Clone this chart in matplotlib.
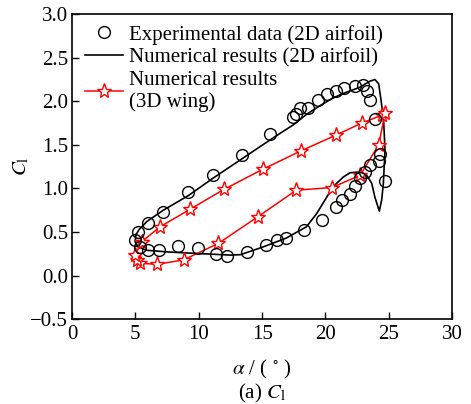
import matplotlib
matplotlib.use("Agg")
import matplotlib.pyplot as plt
from matplotlib.lines import Line2D

plt.rcParams["font.family"] = ["Liberation Serif", "DejaVu Serif"]
plt.rcParams["mathtext.fontset"] = "stix"
plt.rcParams["font.size"] = 15

# Experimentelle Daten (2D-Profil)
exp_alpha = [5.0, 5.24, 6.0, 7.2, 9.18, 11.15, 13.39, 15.6, 17.4, 17.7, 18.0, 18.65,
             19.45, 20.1, 20.8, 21.5, 22.3, 23.0, 23.3, 23.5, 23.9, 24.3, 24.2,
             24.7, 23.5, 23.1, 22.7, 22.3, 21.9, 21.3, 20.8, 19.7, 18.3, 16.9,
             16.2, 15.3, 13.8, 12.26, 11.4, 9.97, 8.4, 6.9, 6.0, 5.37]
exp_cl = [0.41, 0.50, 0.60, 0.73, 0.96, 1.15, 1.38, 1.63, 1.82, 1.85, 1.92, 1.92,
          2.01, 2.08, 2.12, 2.15, 2.17, 2.19, 2.12, 2.02, 1.80, 1.40, 1.31,
          1.09, 1.27, 1.19, 1.12, 1.03, 0.94, 0.87, 0.79, 0.64, 0.52, 0.43,
          0.41, 0.35, 0.27, 0.22, 0.25, 0.32, 0.34, 0.29, 0.29, 0.33]

# Numerische Ergebnisse (2D-Profil), Hysterese-Schleife
num2d_alpha = [5.05, 5.3, 5.9, 7.2, 9.2, 11.15, 13.0, 14.84, 16.5, 17.47, 18.5,
               19.57, 20.5, 21.4, 22.7, 23.5, 23.9, 24.2, 24.4, 24.6, 24.7, 24.57,
               24.44, 24.25, 23.9, 23.65, 23.26, 22.73, 21.94, 21.4, 20.6, 20.1,
               19.3, 18.5, 16.9, 15.1, 13.3, 12.5, 10.4, 7.7, 5.9, 5.2, 4.97, 5.05]
num2d_cl = [0.47, 0.53, 0.62, 0.75, 0.92, 1.12, 1.30, 1.48, 1.64, 1.73, 1.85,
            1.95, 2.03, 2.09, 2.16, 2.23, 2.25, 2.2, 2.0, 1.75, 1.44, 1.06,
            0.87, 0.74, 0.90, 1.06, 1.15, 1.19, 1.18, 1.13, 1.02, 0.90,
            0.71, 0.56, 0.43, 0.33, 0.24, 0.235, 0.25, 0.27, 0.29, 0.33, 0.39, 0.47]

# Numerische Ergebnisse (3D-Fluegel)
num3d_alpha = [5.5, 6.95, 9.3, 12.0, 15.05, 18.05, 20.8, 22.86, 24.45, 24.7, 24.2,
               22.73, 20.5, 17.7, 14.66, 11.55, 8.8, 6.74, 5.4, 5.15, 4.97, 5.5]
num3d_cl = [0.39, 0.56, 0.76, 0.99, 1.22, 1.43, 1.61, 1.75, 1.84, 1.86, 1.50,
            1.15, 1.01, 0.98, 0.675, 0.37, 0.18, 0.13, 0.14, 0.18, 0.235, 0.39]

fig = plt.figure(figsize=(4.71, 4.04), dpi=100)
ax = fig.add_axes([0.153, 0.21, 0.807, 0.755])

ax.plot(num2d_alpha, num2d_cl, color="black", lw=1.2)
ax.plot(num3d_alpha, num3d_cl, color="red", lw=1.1, marker="*", ms=11,
        mfc="white", mec="red", mew=1.0)
ax.plot(exp_alpha, exp_cl, ls="none", marker="o", ms=8.5, mfc="none",
        mec="black", mew=1.0)

ax.set_xlim(0, 30)
ax.set_ylim(-0.5, 3.0)
ax.set_xticks([0, 5, 10, 15, 20, 25, 30])
ax.set_yticks([-0.5, 0.0, 0.5, 1.0, 1.5, 2.0, 2.5, 3.0])
ax.set_yticklabels(["\u22120.5", "0.0", "0.5", "1.0", "1.5", "2.0", "2.5", "3.0"])
ax.tick_params(direction="in", length=5, width=1, top=False, right=False, pad=3)
ax.tick_params(axis="x", pad=4)
for s in ax.spines.values():
    s.set_linewidth(1.2)

ax.set_xlabel(r"$\alpha$ / ( $^{\circ}$ )", labelpad=10)
ax.set_ylabel(r"$C_\mathrm{l}$", labelpad=-1)
fig.text(0.556, 0.027, r"(a) $C_\mathrm{l}$", ha="center", va="center")

handles = [
    Line2D([], [], ls="none", marker="o", ms=8.5, mfc="none", mec="black", mew=1.0),
    Line2D([], [], color="black", lw=1.2),
    Line2D([], [], color="red", lw=1.1, marker="*", ms=11, mfc="white", mec="red"),
]
labels = ["Experimental data (2D airfoil)", "Numerical results (2D airfoil)",
          "Numerical results\n(3D wing)"]
ax.legend(handles, labels, loc="upper left", bbox_to_anchor=(0.035, 0.965),
          frameon=False, borderaxespad=0, borderpad=0, handlelength=1.8,
          handletextpad=0.3, labelspacing=0.15)

fig.savefig("out.png", dpi=100)
